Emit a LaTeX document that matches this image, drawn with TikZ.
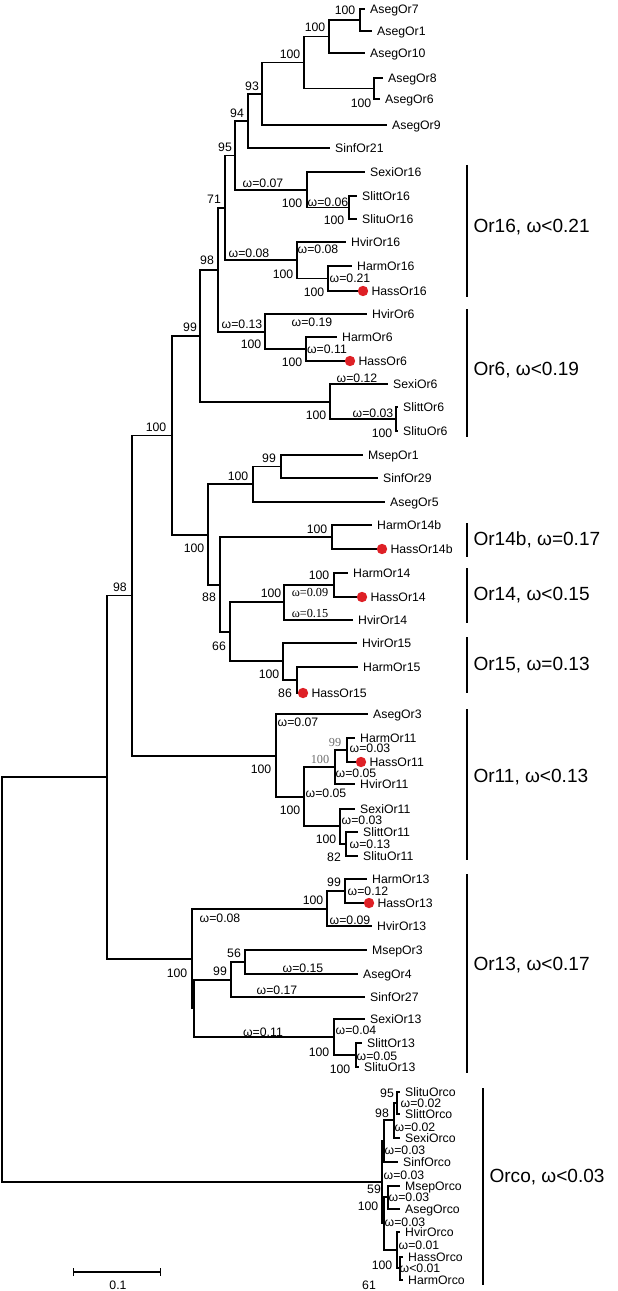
\documentclass[tikz,border=0pt]{standalone}
\usepackage{fontspec}
\setmainfont{Liberation Sans}
\newfontfamily\timesfont{Liberation Serif}
\usetikzlibrary{arrows.meta}
\definecolor{dotred}{RGB}{222,32,38}
\definecolor{bsgray}{RGB}{110,110,110}

\begin{document}
\begin{tikzpicture}[x=0.75pt, y=-0.75pt, line width=0.8pt, font=\fontsize{9.2}{10}\selectfont,
  leaf/.style={anchor=west, inner xsep=3.5pt, inner ysep=0pt, text height=6.6pt, text depth=0pt},
  hass/.style={leaf, inner xsep=6pt},
  bs/.style={inner sep=0pt},
  om/.style={inner sep=0pt},
  omser/.style={inner sep=0pt, font=\timesfont\fontsize{9.2}{10}\selectfont},
  bsser/.style={inner sep=0pt, text=bsgray, font=\timesfont\fontsize{9.2}{10}\selectfont},
  clade/.style={anchor=west, inner sep=0pt, font=\fontsize{14.3}{16}\selectfont},
  cladebar/.style={line width=1.5pt}]
\useasboundingbox (0,0) rectangle (617,1291);

\coordinate (a71) at (360,20);
\coordinate (a710) at (329,36.5);
\coordinate (a86) at (374,88.5);
\coordinate (aseg) at (304,62.5);
\coordinate (n93) at (262,94);
\coordinate (n94) at (248,121);
\coordinate (n95) at (235,155.5);
\coordinate (or16a) at (307,190);
\coordinate (s16) at (349,207.5);
\coordinate (n71) at (225,208);
\coordinate (or16b) at (297,260);
\coordinate (h16) at (328,278.5);
\coordinate (n98a) at (218,270);
\coordinate (or6a) at (265,332);
\coordinate (h6) at (306,349);
\coordinate (n99a) at (200,336);
\coordinate (or6b) at (330,402);
\coordinate (s6) at (396,419);
\coordinate (n100a) at (172,435.5);
\coordinate (n100b) at (208,535);
\coordinate (ms99) at (281,466.5);
\coordinate (ms100) at (253,484);
\coordinate (n88) at (220,585);
\coordinate (h14b) at (332,537);
\coordinate (n66) at (230,632);
\coordinate (or14) at (284,602);
\coordinate (h14) at (334,585);
\coordinate (or15) at (283,661);
\coordinate (h15) at (297,680);
\coordinate (n98b) at (132,595.5);
\coordinate (or11) at (276,756);
\coordinate (or11a) at (304,797);
\coordinate (h11) at (335,767);
\coordinate (hh11) at (347,750);
\coordinate (s11) at (340,826);
\coordinate (ss11) at (346,844);
\coordinate (top) at (107,777);
\coordinate (or13) at (192,959);
\coordinate (h13) at (327,909);
\coordinate (hh13) at (345,891);
\coordinate (or13a) at (194,1008);
\coordinate (n99c) at (231,980);
\coordinate (n56) at (245,962);
\coordinate (s13) at (334,1037);
\coordinate (ss13) at (356,1055);
\coordinate (root) at (2,980);
\coordinate (orco) at (382,1182);
\coordinate (oc1) at (384,1141);
\coordinate (oc98) at (394,1120);
\coordinate (oc95) at (397,1103);
\coordinate (oc2) at (384,1223);
\coordinate (oc3) at (388,1197);
\coordinate (oc100) at (397,1250);
\coordinate (oc61) at (400,1268);

\node[leaf] (AsegOr7) at (365,9) {AsegOr7};
\node[leaf] (AsegOr1) at (372,31) {AsegOr1};
\node[leaf] (AsegOr10) at (365,53) {AsegOr10};
\node[leaf] (AsegOr8) at (383,78) {AsegOr8};
\node[leaf] (AsegOr6) at (380,99) {AsegOr6};
\node[leaf] (AsegOr9) at (387,125) {AsegOr9};
\node[leaf] (SinfOr21) at (330,148) {SinfOr21};
\node[leaf] (SexiOr16) at (365,172) {SexiOr16};
\node[leaf] (SlittOr16) at (357,196) {SlittOr16};
\node[leaf] (SlituOr16) at (357,219) {SlituOr16};
\node[leaf] (HvirOr16) at (346,242) {HvirOr16};
\node[leaf] (HarmOr16) at (352,266) {HarmOr16};
\node[hass] (HassOr16) at (363,291) {HassOr16};
\node[leaf] (HvirOr6) at (367,314) {HvirOr6};
\node[leaf] (HarmOr6) at (337,337) {HarmOr6};
\node[hass] (HassOr6) at (350,361) {HassOr6};
\node[leaf] (SexiOr6) at (388,384) {SexiOr6};
\node[leaf] (SlittOr6) at (398,407) {SlittOr6};
\node[leaf] (SlituOr6) at (398,431) {SlituOr6};
\node[leaf] (MsepOr1) at (363,455) {MsepOr1};
\node[leaf] (SinfOr29) at (378,478) {SinfOr29};
\node[leaf] (AsegOr5) at (385,502) {AsegOr5};
\node[leaf] (HarmOr14b) at (372,525) {HarmOr14b};
\node[hass] (HassOr14b) at (382,549) {HassOr14b};
\node[leaf] (HarmOr14) at (348,573) {HarmOr14};
\node[hass] (HassOr14) at (362,597) {HassOr14};
\node[leaf] (HvirOr14) at (353,620) {HvirOr14};
\node[leaf] (HvirOr15) at (357,643) {HvirOr15};
\node[leaf] (HarmOr15) at (358,667) {HarmOr15};
\node[hass] (HassOr15) at (303,693) {HassOr15};
\node[leaf] (AsegOr3) at (368,714) {AsegOr3};
\node[leaf] (HarmOr11) at (355,738) {HarmOr11};
\node[hass] (HassOr11) at (361,762) {HassOr11};
\node[leaf] (HvirOr11) at (355,784) {HvirOr11};
\node[leaf] (SexiOr11) at (355,809) {SexiOr11};
\node[leaf] (SlittOr11) at (358,832) {SlittOr11};
\node[leaf] (SlituOr11) at (358,856) {SlituOr11};
\node[leaf] (HarmOr13) at (367,879) {HarmOr13};
\node[hass] (HassOr13) at (369,903) {HassOr13};
\node[leaf] (HvirOr13) at (372,926) {HvirOr13};
\node[leaf] (MsepOr3) at (367,950) {MsepOr3};
\node[leaf] (AsegOr4) at (358,974) {AsegOr4};
\node[leaf] (SinfOr27) at (365,997) {SinfOr27};
\node[leaf] (SexiOr13) at (365,1019) {SexiOr13};
\node[leaf] (SlittOr13) at (362,1043) {SlittOr13};
\node[leaf] (SlituOr13) at (359,1067) {SlituOr13};
\node[leaf] (SlituOrco) at (400,1092) {SlituOrco};
\node[leaf] (SlittOrco) at (400,1114) {SlittOrco};
\node[leaf] (SexiOrco) at (400,1138) {SexiOrco};
\node[leaf] (SinfOrco) at (398,1162) {SinfOrco};
\node[leaf] (MsepOrco) at (400,1186) {MsepOrco};
\node[leaf] (AsegOrco) at (400,1209) {AsegOrco};
\node[leaf] (HvirOrco) at (400,1232) {HvirOrco};
\node[leaf] (HassOrco) at (403,1257) {HassOrco};
\node[leaf] (HarmOrco) at (403,1280) {HarmOrco};

\draw (a71) |- (AsegOr7.west) (a71) |- (AsegOr1.west);
\draw (a710) |- (a71) (a710) |- (AsegOr10.west);
\draw (a86) |- (AsegOr8.west) (a86) |- (AsegOr6.west);
\draw (aseg) |- (a710) (aseg) |- (a86);
\draw (n93) |- (aseg) (n93) |- (AsegOr9.west);
\draw (n94) |- (n93) (n94) |- (SinfOr21.west);
\draw (n95) |- (n94) (n95) |- (or16a);
\draw (or16a) |- (SexiOr16.west) (or16a) |- (s16);
\draw (s16) |- (SlittOr16.west) (s16) |- (SlituOr16.west);
\draw (n71) |- (n95) (n71) |- (or16b);
\draw (or16b) |- (HvirOr16.west) (or16b) |- (h16);
\draw (h16) |- (HarmOr16.west) (h16) |- (HassOr16.west);
\draw (n98a) |- (n71) (n98a) |- (or6a);
\draw (or6a) |- (HvirOr6.west) (or6a) |- (h6);
\draw (h6) |- (HarmOr6.west) (h6) |- (HassOr6.west);
\draw (n99a) |- (n98a) (n99a) |- (or6b);
\draw (or6b) |- (SexiOr6.west) (or6b) |- (s6);
\draw (s6) |- (SlittOr6.west) (s6) |- (SlituOr6.west);
\draw (n100a) |- (n99a) (n100a) |- (n100b);
\draw (n100b) |- (ms100) (n100b) |- (n88);
\draw (ms100) |- (ms99) (ms100) |- (AsegOr5.west);
\draw (ms99) |- (MsepOr1.west) (ms99) |- (SinfOr29.west);
\draw (n88) |- (h14b) (n88) |- (n66);
\draw (h14b) |- (HarmOr14b.west) (h14b) |- (HassOr14b.west);
\draw (n66) |- (or14) (n66) |- (or15);
\draw (or14) |- (h14) (or14) |- (HvirOr14.west);
\draw (h14) |- (HarmOr14.west) (h14) |- (HassOr14.west);
\draw (or15) |- (HvirOr15.west) (or15) |- (h15);
\draw (h15) |- (HarmOr15.west) (h15) |- (HassOr15.west);
\draw (n98b) |- (n100a) (n98b) |- (or11);
\draw (or11) |- (AsegOr3.west) (or11) |- (or11a);
\draw (or11a) |- (h11) (or11a) |- (s11);
\draw (h11) |- (hh11) (h11) |- (HvirOr11.west);
\draw (hh11) |- (HarmOr11.west) (hh11) |- (HassOr11.west);
\draw (s11) |- (SexiOr11.west) (s11) |- (ss11);
\draw (ss11) |- (SlittOr11.west) (ss11) |- (SlituOr11.west);
\draw (top) |- (n98b) (top) |- (or13);
\draw (or13) |- (h13) (or13) |- (or13a);
\draw (h13) |- (hh13) (h13) |- (HvirOr13.west);
\draw (hh13) |- (HarmOr13.west) (hh13) |- (HassOr13.west);
\draw (or13a) |- (n99c) (or13a) |- (s13);
\draw (n99c) |- (n56) (n99c) |- (SinfOr27.west);
\draw (n56) |- (MsepOr3.west) (n56) |- (AsegOr4.west);
\draw (s13) |- (SexiOr13.west) (s13) |- (ss13);
\draw (ss13) |- (SlittOr13.west) (ss13) |- (SlituOr13.west);
\draw (root) |- (top) (root) |- (orco);
\draw (orco) |- (oc1) (orco) |- (oc2);
\draw (oc1) |- (oc98) (oc1) |- (SinfOrco.west);
\draw (oc98) |- (oc95) (oc98) |- (SexiOrco.west);
\draw (oc95) |- (SlituOrco.west) (oc95) |- (SlittOrco.west);
\draw (oc2) |- (oc3) (oc2) |- (oc100);
\draw (oc3) |- (MsepOrco.west) (oc3) |- (AsegOrco.west);
\draw (oc100) |- (HvirOrco.west) (oc100) |- (oc61);
\draw (oc61) |- (HassOrco.west) (oc61) |- (HarmOrco.west);

\fill[dotred] (HassOr16.west) circle (3.9pt);
\fill[dotred] (HassOr6.west) circle (3.9pt);
\fill[dotred] (HassOr14b.west) circle (3.9pt);
\fill[dotred] (HassOr14.west) circle (3.9pt);
\fill[dotred] (HassOr15.west) circle (3.9pt);
\fill[dotred] (HassOr11.west) circle (3.9pt);
\fill[dotred] (HassOr13.west) circle (3.9pt);

\node[bs] (b1) at (345,10) {100};
\node[bs] (b2) at (315,27) {100};
\node[bs] (b3) at (361,103) {100};
\node[bs] (b4) at (290,54) {100};
\node[bs] (b5) at (252,86) {93};
\node[bs] (b6) at (237,113) {94};
\node[bs] (b7) at (225,147) {95};
\node[bs] (b8) at (214,199) {71};
\node[bs] (b9) at (334,220) {100};
\node[bs] (b10) at (292,203) {100};
\node[bs] (b11) at (283,274) {100};
\node[bs] (b12) at (314,292) {100};
\node[bs] (b13) at (207,260) {98};
\node[bs] (b14) at (251,344) {100};
\node[bs] (b15) at (292,362) {100};
\node[bs] (b16) at (190,327) {99};
\node[bs] (b17) at (316,415) {100};
\node[bs] (b18) at (382,433) {100};
\node[bs] (b19) at (156,427) {100};
\node[bs] (b20) at (269,458) {99};
\node[bs] (b21) at (238,476) {100};
\node[bs] (b22) at (317,529) {100};
\node[bs] (b23) at (194,548) {100};
\node[bs] (b24) at (209,597) {88};
\node[bs] (b25) at (319,575) {100};
\node[bs] (b26) at (271,593) {100};
\node[bs] (b27) at (219,646) {66};
\node[bs] (b28) at (269,674) {100};
\node[bs] (b29) at (285,693) {86};
\node[bs] (b30) at (120,587) {98};
\node[bs] (b31) at (261,769) {100};
\node[bs] (b32) at (290,810) {100};
\node[bsser] (b33) at (320,759) {100};
\node[bsser] (b34) at (335,742) {99};
\node[bs] (b35) at (326,839) {100};
\node[bs] (b36) at (334,857) {82};
\node[bs] (b37) at (334,882) {99};
\node[bs] (b38) at (313,900) {100};
\node[bs] (b39) at (177,973) {100};
\node[bs] (b40) at (234,953) {56};
\node[bs] (b41) at (220,971) {99};
\node[bs] (b42) at (319,1052) {100};
\node[bs] (b43) at (340,1069) {100};
\node[bs] (b44) at (387,1093) {95};
\node[bs] (b45) at (382,1113) {98};
\node[bs] (b46) at (374,1189) {59};
\node[bs] (b47) at (368,1206) {100};
\node[bs] (b48) at (382,1265) {100};
\node[bs] (b49) at (369,1285) {61};

\node[om] (w1) at (263,183) {ω=0.07};
\node[om] (w2) at (328,202) {ω=0.06};
\node[om] (w3) at (318,249) {ω=0.08};
\node[om] (w4) at (249,253) {ω=0.08};
\node[om] (w5) at (350,278) {ω=0.21};
\node[om] (w6) at (242,324) {ω=0.13};
\node[om] (w7) at (312,322) {ω=0.19};
\node[om] (w8) at (327,349) {ω=0.11};
\node[om] (w9) at (357,378) {ω=0.12};
\node[om] (w10) at (373,413) {ω=0.03};
\node[omser] (w11) at (310,593) {ω=0.09};
\node[omser] (w12) at (310,614) {ω=0.15};
\node[om] (w13) at (298,722) {ω=0.07};
\node[om] (w14) at (370,748) {ω=0.03};
\node[om] (w15) at (356,773) {ω=0.05};
\node[om] (w16) at (326,793) {ω=0.05};
\node[om] (w17) at (362,820) {ω=0.03};
\node[om] (w18) at (370,844) {ω=0.13};
\node[om] (w19) at (368,891) {ω=0.12};
\node[om] (w20) at (350,920) {ω=0.09};
\node[om] (w21) at (220,918) {ω=0.08};
\node[om] (w22) at (303,968) {ω=0.15};
\node[om] (w23) at (277,990) {ω=0.17};
\node[om] (w24) at (356,1030) {ω=0.04};
\node[om] (w25) at (377,1056) {ω=0.05};
\node[om] (w26) at (263,1032) {ω=0.11};
\node[om] (w27) at (421,1103) {ω=0.02};
\node[om] (w28) at (415,1127) {ω=0.02};
\node[om] (w29) at (405,1150) {ω=0.03};
\node[om] (w30) at (404,1175) {ω=0.03};
\node[om] (w31) at (409,1197) {ω=0.03};
\node[om] (w32) at (405,1222) {ω=0.03};
\node[om] (w33) at (419,1245) {ω=0.01};
\node[om] (w34) at (420,1268) {ω<0.01};

\draw[cladebar] (467,165) -- (467,297);
\draw[cladebar] (467,309) -- (467,437);
\draw[cladebar] (467,523) -- (467,557);
\draw[cladebar] (467,568) -- (467,623);
\draw[cladebar] (467,637) -- (467,693);
\draw[cladebar] (467,709) -- (467,860);
\draw[cladebar] (467,874) -- (467,1073);
\draw[cladebar] (483,1088) -- (483,1285);
\node[clade] (c16) at (473,227) {Or16, ω<0.21};
\node[clade] (c6) at (473,370) {Or6, ω<0.19};
\node[clade] (c14b) at (473,540) {Or14b, ω=0.17};
\node[clade] (c14) at (473,595) {Or14, ω<0.15};
\node[clade] (c15) at (473,665) {Or15, ω=0.13};
\node[clade] (c11) at (473,777) {Or11, ω<0.13};
\node[clade] (c13) at (473,965) {Or13, ω<0.17};
\node[clade] (cOrco) at (489,1177) {Orco, ω<0.03};

\coordinate (sb1) at (73,1272);
\coordinate (sb2) at (161,1272);
\draw[{Bar[width=6pt]}-{Bar[width=6pt]}] (sb1) -- (sb2);
\node[bs] (sbl) at (118,1285) {0.1};
\end{tikzpicture}
\end{document}
